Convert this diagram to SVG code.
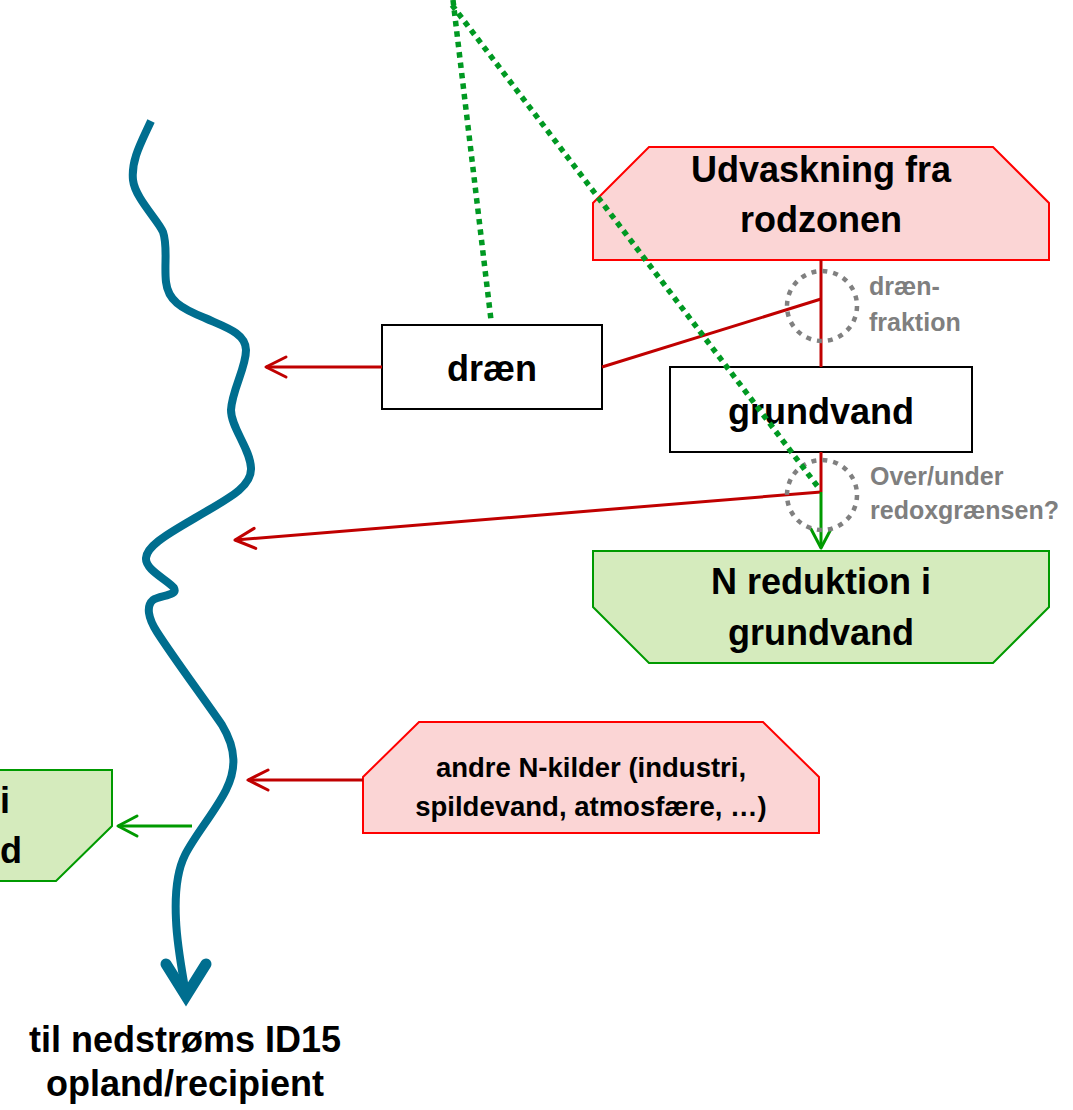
<svg xmlns="http://www.w3.org/2000/svg" width="1073" height="1110" viewBox="0 0 1073 1110">
<style>
.t{font-family:"Liberation Sans",Arial,sans-serif;font-weight:bold;fill:#000;text-anchor:middle}
.big{font-size:36px}
.mid{font-size:27.5px}
.lab{font-family:"Liberation Sans",Arial,sans-serif;font-weight:bold;font-size:25px;fill:#7F7F7F}
.red{fill:#FBD5D5;stroke:#FF0000;stroke-width:2}
.grn{fill:#D5EBBD;stroke:#009A00;stroke-width:2}
.box{fill:#fff;stroke:#000;stroke-width:2}
.rl{stroke:#C00000;stroke-width:3;fill:none}
.gl{stroke:#009A00;stroke-width:3;fill:none}
.dot{stroke:#009922;stroke-width:5.5;stroke-dasharray:5.5 5;fill:none}
.circ{stroke:#808080;stroke-width:4.5;stroke-dasharray:5 6;fill:none}
</style>
<defs>
<marker id="ar" markerUnits="userSpaceOnUse" viewBox="-24 -14 28 28" markerWidth="28" markerHeight="28" refX="0" refY="0" orient="auto">
<path d="M-20,-10 L0,0 L-20,10" fill="none" stroke="#C00000" stroke-width="3" stroke-linejoin="round" stroke-linecap="round"/>
</marker>
<marker id="ag" markerUnits="userSpaceOnUse" viewBox="-24 -14 28 28" markerWidth="28" markerHeight="28" refX="0" refY="0" orient="auto">
<path d="M-19,-10 L0,0 L-19,10" fill="none" stroke="#009A00" stroke-width="3" stroke-linejoin="round" stroke-linecap="round"/>
</marker>
</defs>

<g id="river">
<path d="M151,121 C141,143 131,160 133,180 C135,198 158,220 163,232 C168,246 164,265 166,282 C168,300 180,308 205,318 C225,327 246,333 246,350 C246,368 232,390 231,410 C231,428 250,448 251,468 C252,488 225,500 195,518 C170,533 147,545 146,558 C145,570 168,580 174,588 C178,596 160,595 153,600 C146,606 148,618 157,632 C175,660 205,700 222,725 C237,750 236,770 226,790 C215,812 195,835 185,855 C175,875 175,900 176,920 C177,945 181,965 186,994" fill="none" stroke="#006E8F" stroke-width="8"/>
<path d="M166,964 L186,996 L206,964" fill="none" stroke="#006E8F" stroke-width="11" stroke-linecap="round" stroke-linejoin="miter"/>
</g>

<g id="udvaskning">
<polygon class="red" points="649,147 993,147 1049,203 1049,260 593,260 593,203"/>
<text class="t big" x="821" y="182">Udvaskning fra</text>
<text class="t big" x="821" y="232">rodzonen</text>
</g>

<g id="draen">
<rect class="box" x="382" y="325" width="220" height="84"/>
<text class="t big" x="492" y="381">dræn</text>
</g>

<g id="grundvand">
<rect class="box" x="670" y="367" width="302" height="85"/>
<text class="t big" x="821" y="424">grundvand</text>
</g>

<g id="nreduktion">
<polygon class="grn" points="593,551 1049,551 1049,607 993,663 649,663 593,607"/>
<text class="t big" x="821" y="594">N reduktion i</text>
<text class="t big" x="821" y="645">grundvand</text>
</g>

<g id="andre">
<polygon class="red" points="419,722 763,722 819,777 819,833 363,833 363,777"/>
<text class="t mid" x="591" y="777">andre N-kilder (industri,</text>
<text class="t mid" x="591" y="816">spildevand, atmosfære, …)</text>
</g>

<g id="left-node">
<polygon class="grn" points="-10,770 112,770 112,826 56,881 -10,881"/>
<text class="t big" style="text-anchor:start" x="0" y="813">i</text>
<text class="t big" style="text-anchor:start" x="0" y="863">d</text>
</g>

<g id="outlet-label">
<text class="t big" x="185" y="1052">til nedstrøms ID15</text>
<text class="t big" x="185" y="1096">opland/recipient</text>
</g>

<g id="connectors">
<line class="rl" x1="382" y1="367" x2="266" y2="367" marker-end="url(#ar)"/>
<line class="rl" x1="821" y1="260" x2="821" y2="367"/>
<line class="rl" x1="602" y1="367" x2="821" y2="299"/>
<line class="rl" x1="821" y1="452" x2="821" y2="492"/>
<line class="rl" x1="821" y1="492" x2="235" y2="540" marker-end="url(#ar)"/>
<line class="gl" x1="821" y1="492" x2="821" y2="548" marker-end="url(#ag)"/>
<line class="rl" x1="363" y1="780" x2="248" y2="780" marker-end="url(#ar)"/>
<line class="gl" x1="192" y1="826" x2="118" y2="826" marker-end="url(#ag)"/>
<circle class="circ" cx="822" cy="306" r="35"/>
<circle class="circ" cx="822" cy="495" r="35"/>
<line class="dot" x1="453" y1="0" x2="491" y2="320"/>
<line class="dot" x1="452" y1="5" x2="818" y2="487"/>
</g>

<g id="labels">
<text class="lab" x="869" y="295">dræn-</text>
<text class="lab" x="869" y="331">fraktion</text>
<text class="lab" x="870" y="485">Over/under</text>
<text class="lab" x="870" y="519">redoxgrænsen?</text>
</g>
</svg>
